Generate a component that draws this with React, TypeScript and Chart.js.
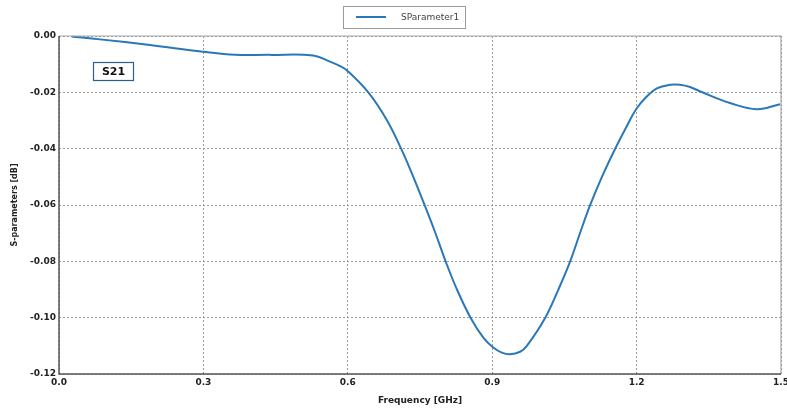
import React, { useEffect, useRef } from "react";
import { Chart, registerables } from "chart.js";

Chart.register(...registerables);

const freqGHz = [0.026, 0.085, 0.189, 0.299, 0.366, 0.438, 0.528, 0.563, 0.584, 0.599, 0.643, 0.681, 0.711, 0.736, 0.76, 0.781, 0.803, 0.826, 0.855, 0.882, 0.902, 0.92, 0.937, 0.958, 0.972, 1.01, 1.037, 1.062, 1.082, 1.103, 1.128, 1.155, 1.179, 1.199, 1.221, 1.242, 1.27, 1.29, 1.311, 1.335, 1.394, 1.45, 1.498];
const s21dB = [-0.0002, -0.0012, -0.0032, -0.0056, -0.0067, -0.0067, -0.0069, -0.0091, -0.0107, -0.0123, -0.0201, -0.0298, -0.0401, -0.05, -0.0602, -0.0695, -0.0799, -0.0897, -0.1, -0.1072, -0.1106, -0.1124, -0.113, -0.1121, -0.11, -0.1001, -0.0902, -0.08, -0.0702, -0.0602, -0.05, -0.0402, -0.0322, -0.026, -0.0215, -0.0186, -0.0173, -0.0173, -0.0181, -0.0199, -0.0238, -0.026, -0.0242];
const seriesName = "SParameter1";
const annotationText = "S21";
const xTitle = "Frequency [GHz]";
const yTitle = "S-parameters [dB]";

const FONT = "'DejaVu Sans', sans-serif";
const LINE = "#2a78b8";

const decorPlugin = {
  id: "decor",
  afterDraw(chart: any) {
    const ctx = chart.ctx;
    const a = chart.chartArea;
    ctx.save();
    ctx.strokeStyle = "#a8a8a8";
    ctx.lineWidth = 1.2;
    ctx.setLineDash([]);
    ctx.beginPath();
    ctx.moveTo(a.left, a.top);
    ctx.lineTo(a.right, a.top);
    ctx.lineTo(a.right, a.bottom);
    ctx.stroke();
    ctx.strokeStyle = "#555";
    ctx.lineWidth = 1.5;
    ctx.beginPath();
    ctx.moveTo(a.left, a.top);
    ctx.lineTo(a.left, a.bottom);
    ctx.lineTo(a.right, a.bottom);
    ctx.stroke();

    const lx = 343, ly = 6, lw = 122, lh = 22;
    ctx.fillStyle = "#fff";
    ctx.fillRect(lx, ly, lw, lh);
    ctx.strokeStyle = "#9a9a9a";
    ctx.lineWidth = 1;
    ctx.strokeRect(lx + 0.5, ly + 0.5, lw, lh);
    ctx.strokeStyle = LINE;
    ctx.lineWidth = 2;
    ctx.beginPath();
    ctx.moveTo(356, 17);
    ctx.lineTo(386, 17);
    ctx.stroke();
    ctx.fillStyle = "#444";
    ctx.font = `9px ${FONT}`;
    ctx.textBaseline = "middle";
    ctx.textAlign = "left";
    ctx.fillText(seriesName, 401, 17.5);

    const bx = 93, by = 62, bw = 40, bh = 18;
    ctx.fillStyle = "#fff";
    ctx.fillRect(bx, by, bw, bh);
    ctx.strokeStyle = "#2d5f8e";
    ctx.lineWidth = 1.2;
    ctx.strokeRect(bx + 0.5, by + 0.5, bw, bh);
    ctx.fillStyle = "#111";
    ctx.font = `bold 11px ${FONT}`;
    ctx.textAlign = "center";
    ctx.fillText(annotationText, bx + bw / 2 + 0.5, by + bh / 2 + 1);
    ctx.restore();
  },
};

export default function App() {
  const ref = useRef<HTMLCanvasElement>(null);
  useEffect(() => {
    document.body.style.margin = "0";
    const data = freqGHz.map((x, i) => ({ x, y: s21dB[i] }));
    const chart = new Chart(ref.current!, {
      type: "line",
      data: {
        datasets: [
          {
            label: seriesName,
            data,
            borderColor: LINE,
            borderWidth: 2,
            pointRadius: 0,
            fill: false,
            tension: 0.4,
          },
        ],
      },
      options: {
        animation: false,
        responsive: false,
        layout: { padding: { left: 0, right: 6, top: 36, bottom: 0 } },
        plugins: { legend: { display: false }, tooltip: { enabled: false } },
        scales: {
          x: {
            type: "linear",
            min: 0,
            max: 1.5,
            ticks: {
              stepSize: 0.3,
              color: "#222",
              font: { family: FONT, size: 9, weight: "bold" },
              padding: 3,
              maxRotation: 0,
              callback: (v: any) => Number(v).toFixed(1),
            },
            grid: { color: "#9a9a9a", lineWidth: 1, drawTicks: false },
            border: { display: false, dash: [2, 2] },
            title: {
              display: true,
              text: xTitle,
              color: "#222",
              font: { family: FONT, size: 9, weight: "bold" },
              padding: { top: 2, bottom: 2 },
            },
            afterFit: (s: any) => {
              s.height = 34;
              s.paddingRight = 0;
              s.paddingLeft = 0;
            },
          },
          y: {
            type: "linear",
            min: -0.12,
            max: 0,
            ticks: {
              stepSize: 0.02,
              color: "#222",
              font: { family: FONT, size: 9, weight: "bold" },
              padding: 3,
              callback: (v: any) => Number(v).toFixed(2),
            },
            grid: { color: "#9a9a9a", lineWidth: 1, drawTicks: false },
            border: { display: false, dash: [2, 2] },
            title: {
              display: true,
              text: yTitle,
              color: "#222",
              font: { family: FONT, size: 8, weight: "bold" },
              padding: { top: 10, bottom: 4 },
            },
            afterFit: (s: any) => {
              s.width = 59;
              s.paddingTop = 0;
              s.paddingBottom = 0;
            },
          },
        },
      },
      plugins: [decorPlugin],
    } as any);
    return () => chart.destroy();
  }, []);
  return (
    <div style={{ position: "absolute", left: 0, top: 0, width: 787, height: 408, background: "#fff" }}>
      <canvas ref={ref} width={787} height={408} />
    </div>
  );
}
